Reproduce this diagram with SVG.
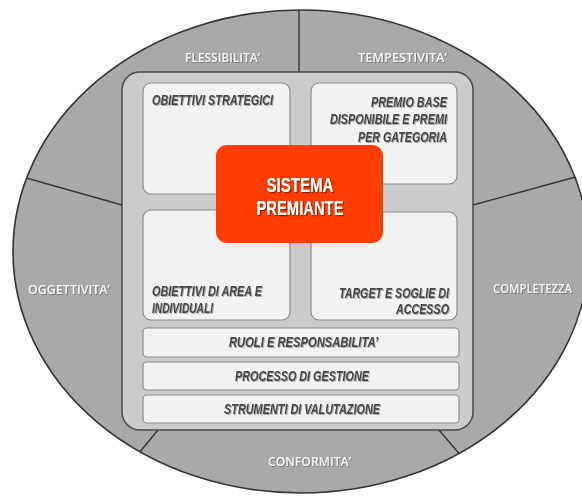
<svg xmlns="http://www.w3.org/2000/svg" width="582" height="496" viewBox="0 0 582 496">
  <defs>
    <filter id="shLight" x="-10%" y="-30%" width="120%" height="160%">
      <feDropShadow dx="0.8" dy="0.8" stdDeviation="0.6" flood-color="#555" flood-opacity="0.7"/>
    </filter>
    <filter id="shDark" x="-10%" y="-30%" width="120%" height="160%">
      <feDropShadow dx="1" dy="1" stdDeviation="0.7" flood-color="#999" flood-opacity="0.8"/>
    </filter>
    <filter id="shRed" x="-10%" y="-30%" width="120%" height="160%">
      <feDropShadow dx="1.2" dy="1.2" stdDeviation="0.6" flood-color="#6a1a00" flood-opacity="0.8"/>
    </filter>
    <clipPath id="ringClip">
      <ellipse cx="301" cy="251.5" rx="288" ry="241.5"/>
    </clipPath>
  </defs>
  <style>
    .ring { fill: #a9a9a9; stroke: #333; stroke-width: 1.6; }
    .divider { stroke: #333; stroke-width: 1.4; fill: none; }
    .frame { fill: #cbcbcb; stroke: #4a4a4a; stroke-width: 1.5; }
    .box { fill: #f2f2f2; stroke: #8c8c8c; stroke-width: 1.2; }
    .core { fill: #ff3d00; }
    .quality { font-family: "Open Sans", "Liberation Sans", sans-serif; font-weight: 600; font-size: 12px; fill: #f4f4f4; filter: url(#shLight); }
    .item { font-family: "Liberation Sans", Arial, sans-serif; font-weight: bold; font-style: italic; font-size: 14px; fill: #444; filter: url(#shDark); }
    .core-text { font-family: "Liberation Sans", Arial, sans-serif; font-weight: bold; font-size: 20.5px; fill: #fff; text-anchor: middle; filter: url(#shRed); }
  </style>

  <!-- outer ring of qualities -->
  <g id="ring">
    <ellipse class="ring" cx="301" cy="251.5" rx="288" ry="241.5"/>
  </g>

  <!-- sector dividers, trimmed to the ring -->
  <g id="connectors" clip-path="url(#ringClip)">
    <line class="divider" x1="299" y1="0" x2="299" y2="72"/>
    <line class="divider" x1="10" y1="173.5" x2="122" y2="205"/>
    <line class="divider" x1="473" y1="205" x2="590" y2="173"/>
    <line class="divider" x1="158" y1="430" x2="125" y2="470"/>
    <line class="divider" x1="439" y1="430" x2="474" y2="471"/>
  </g>

  <g id="label-flessibilita">
    <text class="quality" x="185" y="62" textLength="75" lengthAdjust="spacingAndGlyphs">FLESSIBILITA’</text>
  </g>
  <g id="label-tempestivita">
    <text class="quality" x="358" y="62" textLength="89" lengthAdjust="spacingAndGlyphs">TEMPESTIVITA’</text>
  </g>
  <g id="label-oggettivita">
    <text class="quality" x="28" y="294" textLength="82" lengthAdjust="spacingAndGlyphs">OGGETTIVITA’</text>
  </g>
  <g id="label-completezza">
    <text class="quality" x="493" y="293" textLength="79" lengthAdjust="spacingAndGlyphs">COMPLETEZZA</text>
  </g>
  <g id="label-conformita">
    <text class="quality" x="268" y="466" textLength="83" lengthAdjust="spacingAndGlyphs">CONFORMITA’</text>
  </g>

  <!-- inner frame -->
  <g id="frame">
    <rect class="frame" x="122" y="72" width="351" height="358" rx="18" ry="18"/>
  </g>

  <g id="obiettivi-strategici">
    <rect class="box" x="143" y="83" width="147" height="111" rx="8" ry="8"/>
    <text class="item" x="152" y="105" textLength="121" lengthAdjust="spacingAndGlyphs">OBIETTIVI STRATEGICI</text>
  </g>

  <g id="premio-base">
    <rect class="box" x="311" y="83" width="146" height="101" rx="8" ry="8"/>
    <text class="item" x="371" y="107" textLength="76" lengthAdjust="spacingAndGlyphs">PREMIO BASE</text>
    <text class="item" x="330" y="124" textLength="117" lengthAdjust="spacingAndGlyphs">DISPONIBILE E PREMI</text>
    <text class="item" x="358" y="142" textLength="89" lengthAdjust="spacingAndGlyphs">PER GATEGORIA</text>
  </g>

  <g id="obiettivi-area">
    <rect class="box" x="143" y="210" width="147" height="110" rx="8" ry="8"/>
    <text class="item" x="152" y="296" textLength="110" lengthAdjust="spacingAndGlyphs">OBIETTIVI DI AREA E</text>
    <text class="item" x="152" y="313" textLength="61" lengthAdjust="spacingAndGlyphs">INDIVIDUALI</text>
  </g>

  <g id="target-soglie">
    <rect class="box" x="311" y="212" width="146" height="108" rx="8" ry="8"/>
    <text class="item" x="339" y="298" textLength="110" lengthAdjust="spacingAndGlyphs">TARGET E SOGLIE DI</text>
    <text class="item" x="396" y="314" textLength="53" lengthAdjust="spacingAndGlyphs">ACCESSO</text>
  </g>

  <g id="ruoli">
    <rect class="box" x="143" y="328" width="316" height="29" rx="4" ry="4"/>
    <text class="item" x="229" y="347" textLength="149" lengthAdjust="spacingAndGlyphs">RUOLI E RESPONSABILITA’</text>
  </g>

  <g id="processo">
    <rect class="box" x="143" y="362" width="316" height="28" rx="4" ry="4"/>
    <text class="item" x="235" y="381" textLength="134" lengthAdjust="spacingAndGlyphs">PROCESSO DI GESTIONE</text>
  </g>

  <g id="strumenti">
    <rect class="box" x="143" y="395" width="316" height="28" rx="4" ry="4"/>
    <text class="item" x="224" y="414" textLength="156" lengthAdjust="spacingAndGlyphs">STRUMENTI DI VALUTAZIONE</text>
  </g>

  <!-- central node -->
  <g id="sistema-premiante">
    <rect class="core" x="216" y="145" width="167" height="98" rx="11" ry="11"/>
    <text class="core-text" x="300" y="192" textLength="67" lengthAdjust="spacingAndGlyphs">SISTEMA</text>
    <text class="core-text" x="300" y="215" textLength="87" lengthAdjust="spacingAndGlyphs">PREMIANTE</text>
  </g>
</svg>
